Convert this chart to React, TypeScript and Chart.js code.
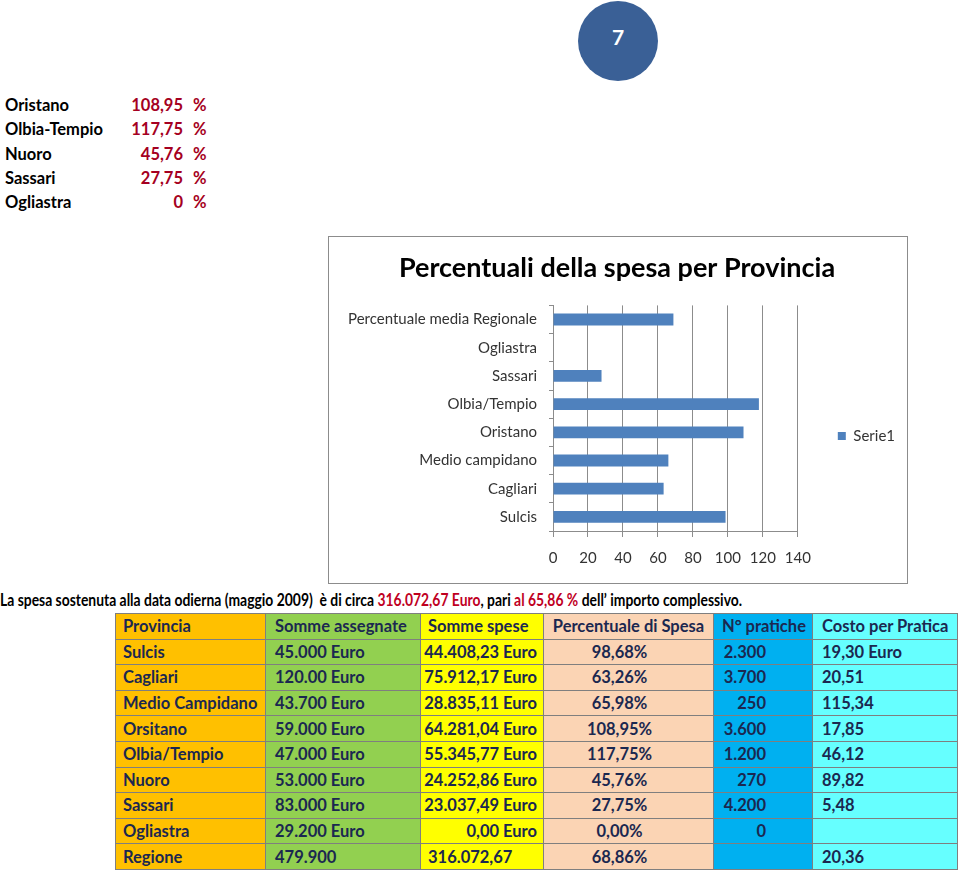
import React, { useEffect, useLayoutEffect, useRef, useState } from "react";
import { Chart, registerables } from "chart.js";

Chart.register(...registerables);

// ---------- data ----------
const categories = [
  "Sulcis",
  "Cagliari",
  "Medio campidano",
  "Oristano",
  "Olbia/Tempio",
  "Sassari",
  "Ogliastra",
  "Percentuale media Regionale",
];
const serie1 = [98.68, 63.26, 65.98, 108.95, 117.75, 27.75, 0, 68.86];
const seriesName = "Serie1";
const chartTitle = "Percentuali della spesa per Provincia";
const xMin = 0;
const xMax = 140;
const xStep = 20;

const listNames = ["Oristano", "Olbia-Tempio", "Nuoro", "Sassari", "Ogliastra"];
const listValues = ["108,95", "117,75", "45,76", "27,75", "0"];

const tableHeader = [
  "Provincia",
  "Somme assegnate",
  "Somme spese",
  "Percentuale di Spesa",
  "N° pratiche",
  "Costo per Pratica",
];
const tableProvince = ["Sulcis", "Cagliari", "Medio Campidano", "Orsitano", "Olbia/Tempio", "Nuoro", "Sassari", "Ogliastra", "Regione"];
const tableAssigned = ["45.000 Euro", "120.00 Euro", "43.700 Euro", "59.000 Euro", "47.000 Euro", "53.000 Euro", "83.000 Euro", "29.200 Euro", "479.900"];
const tableSpent = ["44.408,23 Euro", "75.912,17 Euro", "28.835,11 Euro", "64.281,04 Euro", "55.345,77 Euro", "24.252,86 Euro", "23.037,49 Euro", "0,00 Euro", "316.072,67"];
const tablePercent = ["98,68%", "63,26%", "65,98%", "108,95%", "117,75%", "45,76%", "27,75%", "0,00%", "68,86%"];
const tablePractices = ["2.300", "3.700", "250", "3.600", "1.200", "270", "4.200", "0", ""];
const tableCost = ["19,30 Euro", "20,51", "115,34", "17,85", "46,12", "89,82", "5,48", "", "20,36"];

// ---------- styles ----------
const FONT = "Lato, 'Open Sans', sans-serif";
const NAVY = "#1b2850";
const colColors = ["#FFC000", "#92D050", "#FFFF00", "#FBD4B4", "#00B0F0", "#66FFFF"];
const colWidths = [150, 155, 123, 170, 99, 145];

const LEGEND_SHIFT = 28;
const legendShift = {
  id: "legendShift",
  afterLayout(chart: any) {
    const l = chart.legend;
    if (l) {
      l.top += LEGEND_SHIFT;
      l.bottom += LEGEND_SHIFT;
    }
  },
};

function FitText({ width, children, style }: { width: number; children: React.ReactNode; style?: React.CSSProperties }) {
  const ref = useRef<HTMLSpanElement>(null);
  const [scale, setScale] = useState(1);
  useLayoutEffect(() => {
    if (ref.current) {
      const w = ref.current.scrollWidth;
      if (w > 0) setScale(width / w);
    }
  }, [width]);
  return (
    <span
      ref={ref}
      style={{
        display: "inline-block",
        whiteSpace: "pre",
        transformOrigin: "left center",
        transform: `scaleX(${scale})`,
        ...style,
      }}
    >
      {children}
    </span>
  );
}

function BarChart() {
  const ref = useRef<HTMLCanvasElement>(null);
  useEffect(() => {
    if (!ref.current) return;
    const tickFont = { family: FONT, size: 15 };
    const chart = new Chart(ref.current, {
      type: "bar",
      data: {
        labels: categories,
        datasets: [
          {
            label: seriesName,
            data: serie1,
            backgroundColor: "#4F81BD",
            borderWidth: 0,
            barPercentage: 0.42,
            categoryPercentage: 1,
          },
        ],
      },
      options: {
        animation: false,
        responsive: false,
        indexAxis: "y",
        layout: { padding: { left: 0, right: 2, top: 0, bottom: 4 } },
        plugins: {
          title: {
            display: true,
            text: chartTitle,
            color: "#000",
            font: { family: FONT, size: 27, weight: "bold" },
            padding: { top: 15, bottom: 21 },
          },
          legend: {
            position: "right",
            labels: {
              boxWidth: 8,
              boxHeight: 8,
              padding: 40,
              color: "#333",
              font: { family: FONT, size: 15 },
            },
          },
          tooltip: { enabled: false },
        },
        scales: {
          x: {
            min: xMin,
            max: xMax,
            ticks: { stepSize: xStep, color: "#333", font: tickFont, padding: 12 },
            grid: { color: "#8c8c8c", tickLength: 6 },
            border: { color: "#8c8c8c" },
          },
          y: {
            reverse: true,
            afterFit: (s: any) => {
              s.width = 224;
            },
            ticks: { color: "#333", font: tickFont, padding: 12, autoSkip: false },
            grid: { offset: true, drawOnChartArea: false, tickLength: 4, color: "#8c8c8c" },
            border: { color: "#8c8c8c" },
          },
        },
      },
      plugins: [legendShift],
    } as any);
    return () => chart.destroy();
  }, []);
  return <canvas ref={ref} width={578} height={346} style={{ width: 578, height: 346, display: "block" }} />;
}

export default function App() {
  const rowH = 25.6;
  const cellBase: React.CSSProperties = {
    border: "1px solid #7f7f7f",
    height: rowH,
    padding: 0,
    fontFamily: FONT,
    fontWeight: 700,
    fontSize: 16.5,
    color: NAVY,
    lineHeight: "20px",
    whiteSpace: "nowrap",
    overflow: "hidden",
    boxSizing: "border-box",
  };
  const align = (col: number, row: number): React.CSSProperties => {
    switch (col) {
      case 0:
        return { textAlign: "left", paddingLeft: 7 };
      case 1:
        return { textAlign: "left", paddingLeft: 9 };
      case 2:
        return row < 0 || row === tableSpent.length - 1
          ? { textAlign: "left", paddingLeft: 7 }
          : { textAlign: "right", paddingRight: 6 };
      case 3:
        return row < 0 ? { textAlign: "center" } : { textAlign: "center", paddingRight: 18 };
      case 4:
        return row < 0 ? { textAlign: "left", paddingLeft: 8 } : { textAlign: "right", paddingRight: 46 };
      default:
        return { textAlign: "left", paddingLeft: 9 };
    }
  };
  const rows = tableProvince.map((p, i) => [p, tableAssigned[i], tableSpent[i], tablePercent[i], tablePractices[i], tableCost[i]]);

  return (
    <div style={{ position: "absolute", left: 0, top: 0, width: 960, height: 871, background: "#fff", overflow: "hidden" }}>
      {/* page badge */}
      <div
        style={{
          position: "absolute",
          left: 578,
          top: 1,
          width: 80,
          height: 80,
          borderRadius: "50%",
          background: "#3A6096",
          color: "#fff",
          fontFamily: FONT,
          fontWeight: 700,
          fontSize: 21,
          textAlign: "center",
          lineHeight: "72px",
        }}
      >
        7
      </div>

      {/* province list */}
      {listNames.map((n, i) => {
        const top = 95 + i * 24.3;
        const t: React.CSSProperties = { position: "absolute", top, lineHeight: "20px", fontFamily: FONT, fontWeight: 700, fontSize: 16.5 };
        return (
          <React.Fragment key={n}>
            <div style={{ ...t, left: 5, color: "#000" }}>{n}</div>
            <div style={{ ...t, left: 100, width: 83, textAlign: "right", color: "#a50021" }}>{listValues[i]}</div>
            <div style={{ ...t, left: 193, color: "#a50021" }}>%</div>
          </React.Fragment>
        );
      })}

      {/* chart frame */}
      <div style={{ position: "absolute", left: 328, top: 236, width: 578, height: 346, border: "1px solid #8c8c8c", background: "#fff" }}>
        <BarChart />
      </div>

      {/* sentence */}
      <div style={{ position: "absolute", left: 0, top: 590, lineHeight: "20px", fontFamily: FONT, fontWeight: 700, fontSize: 16.5, color: "#000" }}>
        <FitText width={742}>
          {"La spesa sostenuta alla data odierna (maggio 2009)  è di circa "}
          <span style={{ color: "#c0001f" }}>316.072,67 Euro</span>
          {", pari "}
          <span style={{ color: "#c0001f" }}>al 65,86 %</span>
          {" dell’ importo complessivo."}
        </FitText>
      </div>

      {/* table */}
      <table
        style={{
          position: "absolute",
          left: 115,
          top: 613,
          width: 842,
          borderCollapse: "collapse",
          tableLayout: "fixed",
        }}
      >
        <colgroup>
          {colWidths.map((w, i) => (
            <col key={i} style={{ width: w }} />
          ))}
        </colgroup>
        <tbody>
          <tr>
            {tableHeader.map((h, c) => (
              <td key={c} style={{ ...cellBase, background: colColors[c], ...align(c, -1) }}>
                {h}
              </td>
            ))}
          </tr>
          {rows.map((r, i) => (
            <tr key={i}>
              {r.map((v, c) => (
                <td key={c} style={{ ...cellBase, background: colColors[c], ...align(c, i) }}>
                  {v}
                </td>
              ))}
            </tr>
          ))}
        </tbody>
      </table>
    </div>
  );
}
